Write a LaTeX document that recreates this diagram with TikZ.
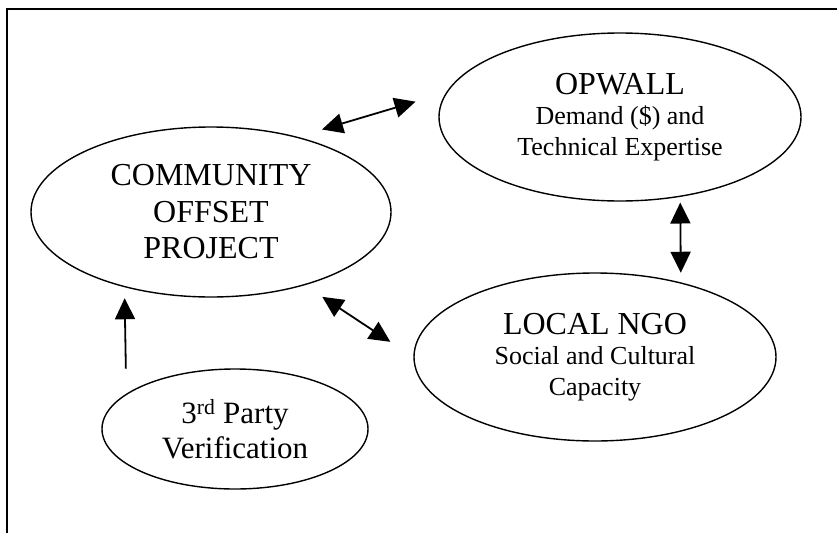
\documentclass[tikz,border=0pt]{standalone}
\usepackage{fontspec}
\setmainfont{Liberation Serif}
\usetikzlibrary{arrows.meta,shapes.geometric}
\newcommand\titlesize{\fontsize{32}{36.5}\selectfont}
\newcommand\notesize{\fontsize{26}{30.5}\selectfont}

\begin{document}
\begin{tikzpicture}[x=1pt,y=-1pt,
		blob/.style={draw,ellipse,line width=1.4pt,inner sep=0pt,align=center},
		link/.style={line width=1.8pt,{Triangle[length=21pt,width=20pt]}-{Triangle[length=21pt,width=20pt]}},
		onelink/.style={line width=1.8pt,-{Triangle[length=21pt,width=20pt]}}]
		%%%%% START %%%%%
		\useasboundingbox (0,0) rectangle (837,533);
		\draw[line width=2pt] (837,9) -- (6.5,9) -- (6.5,533);
		
		\node[blob,minimum width=360pt,minimum height=170pt,font=\titlesize] (comm) at (211,212) {COMMUNITY\\OFFSET\\PROJECT};
		\node[blob,minimum width=362pt,minimum height=168pt,font=\notesize] (opwall) at (620,117) {{\titlesize OPWALL}\\Demand (\$) and\\Technical Expertise};
		\node[blob,minimum width=362pt,minimum height=168pt,font=\notesize] (ngo) at (595,357) {{\titlesize LOCAL NGO}\\Social and Cultural\\Capacity};
		\node[blob,minimum width=266pt,minimum height=120pt,font=\fontsize{31}{35}\selectfont] (verif) at (235,429) {3\textsuperscript{rd} Party\\Verification};
		
		\draw[link,shorten <=25.5pt,shorten >=31.8pt] (comm.41.6) -- (opwall.172.6);
		\draw[link,shorten <=5.6pt,shorten >=9.6pt] (opwall.-53.4) -- (ngo.41.5);
		\draw[link,shorten <=21pt,shorten >=27.5pt] (comm.-38.7) -- (ngo.180.7);
		\draw[onelink,shorten <=25pt,shorten >=11pt] (verif.162) -- (comm.221.8);
		%%%%% END %%%%%
	\end{tikzpicture}
\end{document}
